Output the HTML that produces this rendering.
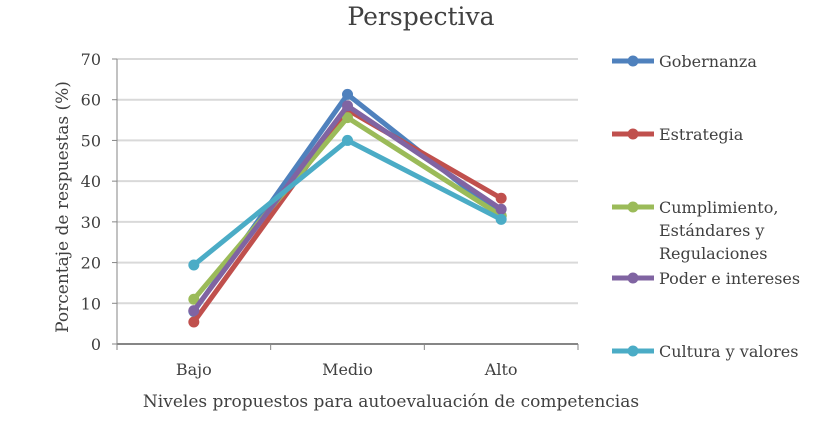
<!DOCTYPE html>
<html><head><meta charset="utf-8"><style>
body{margin:0;background:#fff}
svg{display:block;font-family:"DejaVu Serif","Liberation Serif",serif}
</style></head><body>
<svg width="835" height="421">
<text x="421" y="25" font-size="25" text-anchor="middle" fill="#404040">Perspectiva</text>
<g id="grid"></g>
<g id="axes"></g>
<g id="series"></g>
<g id="legend"></g>
<text x="391" y="407" font-size="17" text-anchor="middle" fill="#404040">Niveles propuestos para autoevaluación de competencias</text>
<text transform="translate(68,207) rotate(-90)" font-size="17" text-anchor="middle" fill="#404040">Porcentaje de respuestas (%)</text>
</svg>
<script>
const categories=["Bajo","Medio","Alto"];
const seriesNames=["Gobernanza","Estrategia","Cumplimiento, Estándares y Regulaciones","Poder e intereses","Cultura y valores"];
const gobernanza=[8,61.3,31.5];
const estrategia=[5.4,57.5,35.8];
const cumplimiento=[11,55.6,31.5];
const poder=[8.2,58.5,33.1];
const cultura=[19.4,50,30.6];
const yTicks=[0,10,20,30,40,50,60,70];
const seriesData=[gobernanza,estrategia,cumplimiento,poder,cultura];
const colors=["#4f81bd","#c0504d","#9bbb59","#8064a2","#4bacc6"];
const NS="http://www.w3.org/2000/svg";
const x0=117,x1=578,yb=344,yt=59;
const xs=i=>x0+(i+0.5)*(x1-x0)/categories.length;
const ys=v=>yb-(v/70)*(yb-yt);
function mk(t,a,p){const e=document.createElementNS(NS,t);for(const k in a)e.setAttribute(k,a[k]);p.appendChild(e);return e;}
const grid=document.getElementById('grid'),axes=document.getElementById('axes'),ser=document.getElementById('series'),leg=document.getElementById('legend');
yTicks.forEach(v=>{
 if(v>0){const l=mk('line',{x1:x0,x2:x1,y1:ys(v),y2:ys(v),stroke:'#d9d9d9','stroke-width':2},grid);
 
 }
 const t=mk('text',{x:x0-16,y:ys(v)+6,'font-size':16,'text-anchor':'end',fill:'#404040'},axes);t.textContent=v;
 
 
 mk('line',{x1:x0-5,x2:x0,y1:ys(v),y2:ys(v),stroke:'#868686','stroke-width':1},axes);
});
mk('line',{x1:x0,x2:x0,y1:yt,y2:yb,stroke:'#868686','stroke-width':1},axes);
mk('line',{x1:x0,x2:x1,y1:yb,y2:yb,stroke:'#868686','stroke-width':2},axes);
for(let i=0;i<=categories.length;i++){const x=x0+i*(x1-x0)/categories.length;mk('line',{x1:x,x2:x,y1:yb,y2:yb+6,stroke:'#868686'},axes);}
categories.forEach((c,i)=>{const t=mk('text',{x:xs(i),y:375,'font-size':16,'text-anchor':'middle',fill:'#404040'},axes);t.textContent=c;
 
 });
seriesData.forEach((d,s)=>{
 const g=mk('g',{},ser);
 
 
 mk('polyline',{points:d.map((v,i)=>xs(i)+','+ys(v)).join(' '),fill:'none',stroke:colors[s],'stroke-width':5,'stroke-linejoin':'round'},g);
 d.forEach((v,i)=>{const c=mk('circle',{cx:xs(i),cy:ys(v),r:5.5,fill:colors[s]},g);
  
  });
});
const legY=[61,134,207,278,351];
const legLines=[["Gobernanza"],["Estrategia"],["Cumplimiento,","Estándares y","Regulaciones"],["Poder e intereses"],["Cultura y valores"]];
legLines.forEach((ls,s)=>{
 const g=mk('g',{},leg);
 
 
 mk('line',{x1:612,x2:654,y1:legY[s],y2:legY[s],stroke:colors[s],'stroke-width':5},g);
 mk('circle',{cx:633,cy:legY[s],r:5.5,fill:colors[s]},g);
 ls.forEach((t,j)=>{const e=mk('text',{x:659,y:legY[s]+6+j*23,'font-size':16,fill:'#404040'},g);e.textContent=t;});
});
</script>
</body></html>
